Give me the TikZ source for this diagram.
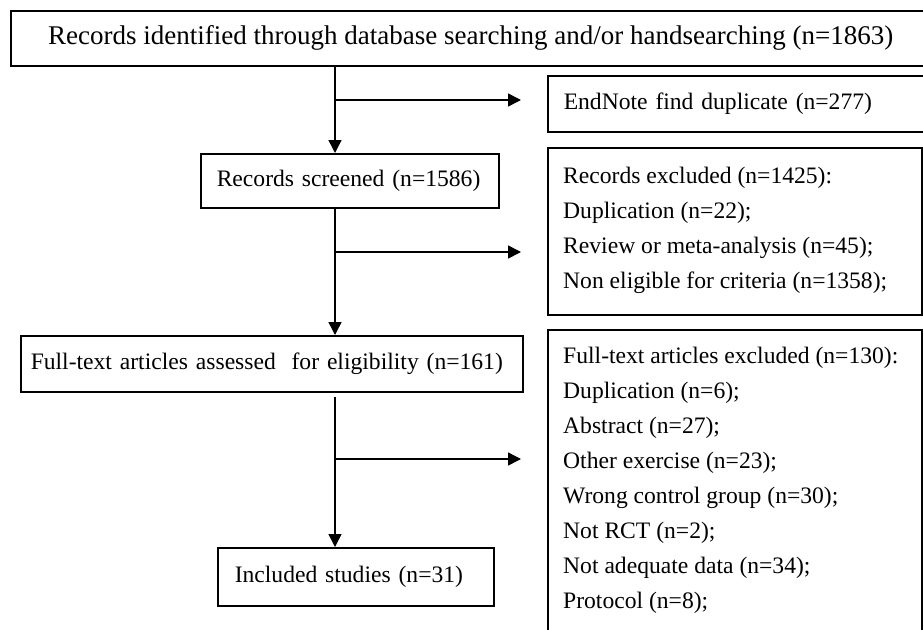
\documentclass[tikz,border=0pt]{standalone}
\usepackage{fontspec}
\setmainfont{Liberation Serif}
\usetikzlibrary{arrows.meta}
\newcommand\fsz{\fontsize{23.6}{35}\selectfont}
\newcommand\fszbig{\fontsize{27}{35}\selectfont}
\begin{document}
\begin{tikzpicture}[x=1pt,y=-1pt,
  box/.style={draw, line width=1.5pt, rectangle, anchor=north west, inner ysep=0pt, font=\fsz},
  txt/.style={inner sep=0pt, font=\fsz, align=left},
  arr/.style={line width=1.5pt, -{Triangle[length=13pt,width=13pt]}}]
\useasboundingbox (0,0) rectangle (923,629);
\clip (0,0) rectangle (923,629);
\fill[white] (0,0) rectangle (923,629);
% boxes
\node[box, minimum width=920pt, minimum height=55pt, align=center, font=\fszbig] (top) at (10,10)
  {Records identified through database searching and/or handsearching (n=1863)};
\node[box, minimum width=383pt, minimum height=56pt, text width=351pt, inner xsep=16pt, align=left] (dup) at (547,75)
  {\mbox{EndNote find duplicate (n=277)}};
\node[box, minimum width=298pt, minimum height=54pt, text width=266pt, inner xsep=16pt, align=left] (scr) at (200,153)
  {\mbox{Records screened (n=1586)}};
\node[box, minimum width=374pt, minimum height=167pt] (exc1) at (547,147) {};
\node[txt, anchor=west] (exc1txt) at (563,230)
  {Records excluded (n=1425):\\Duplication (n=22);\\Review or meta-analysis (n=45);\\Non eligible for criteria (n=1358);};
\node[box, minimum width=502pt, minimum height=56pt, text width=482pt, inner xsep=10pt, align=left] (ft) at (20,335)
  {\mbox{Full-text articles assessed\ \ for eligibility (n=161)}};
\node[box, minimum width=374pt, minimum height=330pt] (exc2) at (547,329) {};
\node[txt, anchor=west] (exc2txt) at (563,480.5)
  {Full-text articles excluded (n=130):\\Duplication (n=6);\\Abstract (n=27);\\Other exercise (n=23);\\Wrong control group (n=30);\\Not RCT (n=2);\\Not adequate data (n=34);\\Protocol (n=8);};
\node[box, minimum width=276pt, minimum height=58pt, text width=242pt, inner xsep=17pt, align=left] (inc) at (217,547)
  {\mbox{Included studies (n=31)}};
% connectors
\coordinate (spine) at (335,0);
\draw[arr] (top.south -| spine) -- (scr.north -| spine);
\draw[arr] (scr.south -| spine) -- (ft.north -| spine);
\draw[arr, shorten <=4pt] (ft.south -| spine) -- (inc.north -| spine);
\coordinate (b1) at (335,100);
\coordinate (b2) at (335,252);
\coordinate (b3) at (335,459);
\draw[arr, shorten >=26pt] (b1) -- (b1 -| dup.west);
\draw[arr, shorten >=26pt] (b2) -- (b2 -| exc1.west);
\draw[arr, shorten >=26pt] (b3) -- (b3 -| exc2.west);
\end{tikzpicture}
\end{document}
